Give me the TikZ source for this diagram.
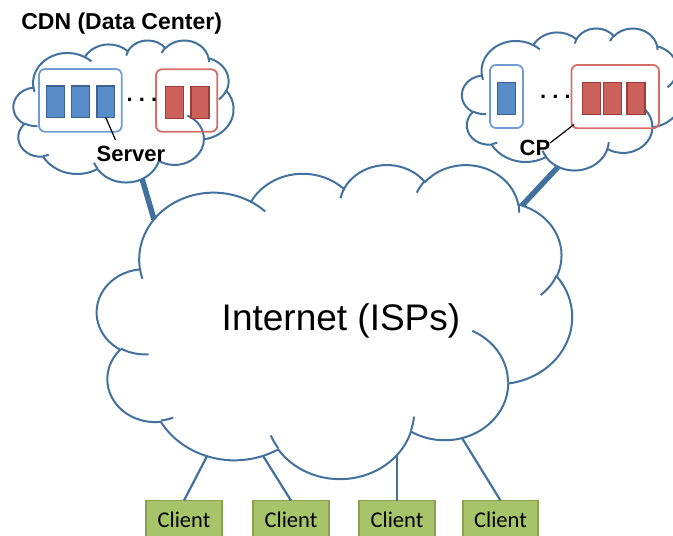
\documentclass[tikz,border=0pt]{standalone}
\usepackage{tikz}
\usepackage{fontspec}
\setmainfont{Liberation Sans}
\newfontfamily\clientfamily{Carlito}

\definecolor{cloudc}{RGB}{66,113,158}
\definecolor{bboxc}{RGB}{110,157,210}
\definecolor{bsrvc}{RGB}{88,140,200}
\definecolor{bsrvd}{RGB}{60,100,145}
\definecolor{rboxc}{RGB}{214,110,104}
\definecolor{rsrvc}{RGB}{204,96,90}
\definecolor{rsrvd}{RGB}{160,60,56}
\definecolor{clientc}{RGB}{168,196,106}
\definecolor{clientd}{RGB}{137,162,82}

% OOXML-style arc: visual angles converted to parametric ones
\newcommand\oodef[5]{%
  \pgfmathsetmacro\ooS{atan2((#2)*sin(#4),(#3)*cos(#4))}%
  \pgfmathsetmacro\ooE{atan2((#2)*sin((#4)+(#5)),(#3)*cos((#4)+(#5)))}%
  \pgfmathsetmacro\ooD{(\ooE)-(\ooS)+360*((\ooE)<(\ooS))}%
  \expandafter\xdef\csname #1\endcsname{arc[x radius=#2, y radius=#3, start angle=\ooS, delta angle=\ooD]}%
}
\oodef{ccA}{67.53}{91.90}{-190.4875}{123.7805}
\oodef{ccB}{53.33}{72.67}{-144.1024}{89.9452}
\oodef{ccC}{43.65}{59.45}{-145.8079}{99.7230}
\oodef{ccD}{48.57}{65.95}{-130.9861}{117.2417}
\oodef{ccE}{53.33}{72.73}{-78.7089}{109.0269}
\oodef{ccF}{67.75}{92.20}{-46.2673}{130.2690}
\oodef{ccG}{57.85}{78.67}{0.6250}{114.0333}
\oodef{ccH}{67.52}{92.15}{22.4516}{115.1726}
\oodef{ccI}{77.20}{105.43}{66.2426}{75.7110}
\oodef{ccJ}{43.60}{59.18}{-274.9421}{146.7356}
\oodef{ccK}{43.45}{59.45}{-246.8285}{152.5189}
\oodef{chA}{43.45}{59.45}{86.7420}{26.4295}
\oodef{chB}{43.60}{59.18}{73.6105}{11.4475}
\oodef{chC}{67.52}{92.15}{137.6242}{14.0811}
\oodef{chD}{67.52}{92.15}{6.4533}{15.9984}
\oodef{chE}{57.85}{78.67}{-70.2924}{70.9174}
\oodef{chF}{53.33}{72.73}{30.3180}{27.7515}
\oodef{chG}{48.57}{65.95}{-13.7443}{14.8589}
\oodef{chH}{48.57}{65.95}{-149.1815}{18.1954}
\oodef{chI}{43.65}{59.45}{-163.4943}{17.6864}
\oodef{chJ}{67.53}{91.90}{-66.7070}{12.3194}
\oodef{chK}{67.53}{91.90}{157.6544}{11.8582}

\newcommand\drawppcloud{%
  \draw[cloudline] (39.00,143.70) \ccA \ccB \ccC \ccD \ccE \ccF \ccG \ccH \ccI \ccJ \ccK -- cycle;
  \draw[cloudline] (46.93,261.77) \chA (69.28,348.99) \chB (164.78,390.90) \chC
    (288.27,347.51) \chD (341.29,229.54) \chE (417.98,153.54) \chF
    (383.24,54.26) \chG (290.78,39.52) \chH (221.41,47.20) \chI
    (140.00,51.92) \chJ (41.27,157.89) \chK;
}

\tikzset{
  cloudline/.style={draw=cloudc, line width=2pt},
  thickline/.style={draw=cloudc, line width=5.5pt},
  linkline/.style={draw=cloudc, line width=2.2pt},
  bluebox/.style={draw=bboxc, line width=1.8pt, rounded corners=6pt, inner sep=0pt, outer sep=0pt},
  redbox/.style={draw=rboxc, line width=1.8pt, rounded corners=6pt, inner sep=0pt, outer sep=0pt},
  bluesrv/.style={fill=bsrvc, draw=bsrvd, line width=1.4pt, inner sep=0pt, outer sep=0pt, minimum width=17.5pt, minimum height=31.5pt},
  redsrv/.style={fill=rsrvc, draw=rsrvd, line width=1.4pt, inner sep=0pt, outer sep=0pt, minimum width=18pt, minimum height=32pt},
  clientbox/.style={fill=clientc, draw=clientd, line width=1.5pt, inner sep=0pt, outer sep=0pt, minimum width=76pt, minimum height=38pt, font=\clientfamily\fontsize{22.5}{27}\selectfont},
  lbl/.style={inner sep=0pt, font=\fontsize{22}{26}\selectfont\bfseries},
  callout/.style={draw=black, line width=1.2pt},
}

\begin{document}
\begin{tikzpicture}[x=1pt,y=-1pt]
\useasboundingbox (0,0) rectangle (673,536);
\clip (0,0) rectangle (673,536);

% clouds
\begin{scope}[shift={(97,164)},xscale=1.099537,yscale=0.726852]
  \drawppcloud
\end{scope}
\begin{scope}[shift={(13.5,40)},xscale=0.509259,yscale=0.328704]
  \drawppcloud
\end{scope}
\begin{scope}[shift={(462,28)},xscale=0.509259,yscale=0.328704]
  \drawppcloud
\end{scope}

% attachment points on the clouds
\coordinate (cdnb) at (142,178.5);
\coordinate (inetL) at (154,219.4);
\coordinate (cpb) at (558,167);
\coordinate (inetR) at (522,205.5);
\coordinate (inet1) at (207,456.2);
\coordinate (inet2) at (263,455.8);
\coordinate (inet3) at (397,455);
\coordinate (inet4) at (462,438);

\draw[thickline] (cdnb) -- (inetL);
\draw[thickline] (cpb) -- (inetR);

% clients
\node[clientbox] (c1) at (184,519.5) {Client};
\node[clientbox] (c2) at (291,519.5) {Client};
\node[clientbox] (c3) at (397,519.5) {Client};
\node[clientbox, minimum width=75pt] (c4) at (500.5,519.5) {Client};
\draw[linkline] (inet1) -- (c1.north);
\draw[linkline] (inet2) -- (c2.north);
\draw[linkline] (inet3) -- (c3.north);
\draw[linkline] (inet4) -- (c4.north);

% CDN data center contents
\node[bluebox, minimum width=82.7pt, minimum height=62.7pt] (lbb) at (80.35,100.35) {};
\node[bluesrv] (ls1) at (55.5,101.8) {};
\node[bluesrv] (ls2) at (80.5,101.8) {};
\node[bluesrv] (ls3) at (105.8,101.8) {};
\node[redbox, minimum width=61.3pt, minimum height=62.4pt] (lrb) at (186.65,100.5) {};
\node[redsrv] (lr1) at (174.2,102.2) {};
\node[redsrv] (lr2) at (200,102.2) {};
\node[lbl, anchor=base] (ldots) at (142,101.5) {.\ .\ .};

% content provider contents
\node[bluebox, minimum width=33pt, minimum height=63pt] (rbb) at (506.5,96.5) {};
\node[bluesrv, minimum height=32pt] (rs1) at (506.5,98.3) {};
\node[redbox, minimum width=87.5pt, minimum height=63.3pt] (rrb) at (615.25,96.65) {};
\node[redsrv] (rr1) at (591.7,98.3) {};
\node[redsrv] (rr2) at (612.5,98.3) {};
\node[redsrv] (rr3) at (635.8,98.3) {};
\node[lbl, anchor=base] (rdots) at (555.5,98.5) {.\ .\ .};

% labels
\node[lbl, anchor=base, font=\fontsize{23}{27}\selectfont\bfseries] (cdnlbl) at (121.7,29.5) {CDN (Data Center)};
\node[lbl, anchor=base] (srvlbl) at (131,161.5) {Server};
\node[lbl, anchor=base] (cplbl) at (535,155) {CP};
\node[anchor=base, inner sep=0pt, font=\fontsize{37}{44}\selectfont] (inet) at (341,330) {Internet (ISPs)};

\coordinate (srvtip) at (115.5,140);
\coordinate (cptip) at (550,143);
\coordinate (rrbtip) at (574,124.5);
\draw[callout] (ls3.south) -- (srvtip);
\draw[callout] (cptip) -- (rrbtip);
\end{tikzpicture}
\end{document}
